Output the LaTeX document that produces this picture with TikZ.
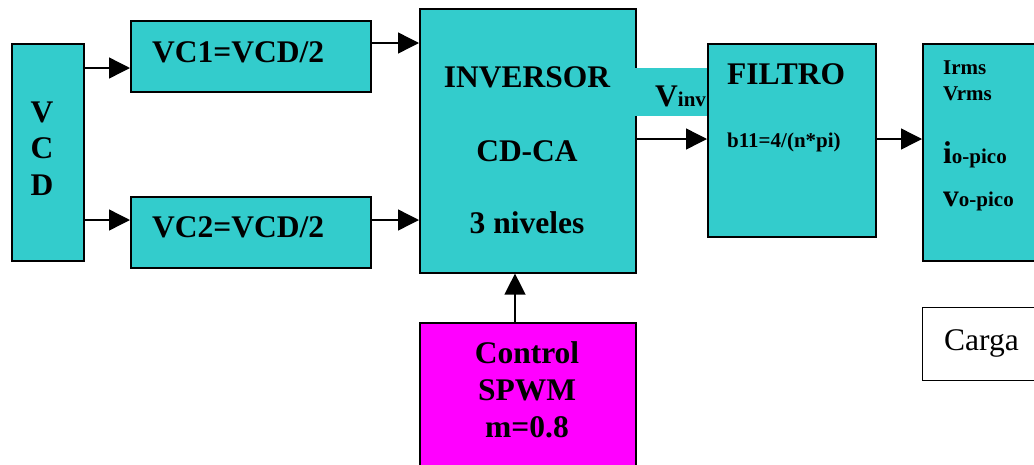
\documentclass[tikz,border=0pt]{standalone}
\usepackage{fontspec}
\setmainfont{Liberation Serif}
\usetikzlibrary{arrows.meta}

\definecolor{cyanbox}{RGB}{51,204,204}
\definecolor{magbox}{RGB}{255,0,255}

\newcommand{\bigtxt}{\fontsize{31.5}{36}\selectfont\bfseries}
\newcommand{\smalltxt}{\fontsize{21}{24}\selectfont\bfseries}

\begin{document}
\begin{tikzpicture}[x=1pt, y=-1pt,
    blk/.style = {draw, line width=1.6pt, fill=cyanbox, anchor=north west, inner sep=0pt},
    arr/.style = {line width=1.4pt, -{Triangle[length=21pt, width=21pt]}},
    txt/.style = {anchor=base, inner sep=0pt}]

    \clip (0,0) rectangle (1034,464);

    % bloques
    \node[blk, minimum width=72pt, minimum height=217pt] (vcd) at (11,43) {};
    \node[blk, minimum width=240pt, minimum height=71pt] (vc1) at (130,20) {};
    \node[blk, minimum width=240pt, minimum height=71pt] (vc2) at (130,196) {};
    \node[blk, minimum width=216pt, minimum height=264pt] (inv) at (419,8) {};
    \node[fill=cyanbox, anchor=north west, inner sep=0pt, minimum width=72pt, minimum height=48pt] (vinvbg) at (635,68) {};
    \node[blk, minimum width=168pt, minimum height=193pt] (fil) at (707,43) {};
    \node[blk, minimum width=140pt, minimum height=217pt] (out) at (922,43) {};
    \node[blk, fill=white, line width=1.2pt, minimum width=130pt, minimum height=73pt] (carga) at (922,307) {};
    \node[blk, fill=magbox, minimum width=216pt, minimum height=160pt] (ctrl) at (419,322) {};

    % textos
    \node[txt] (tv) at (42,122) {\bigtxt V};
    \node[txt] (tc) at (42,158) {\bigtxt C};
    \node[txt] (td) at (42,195) {\bigtxt D};
    \node[txt, anchor=base west] (tvc1) at (152,62) {\bigtxt VC1=VCD/2};
    \node[txt, anchor=base west] (tvc2) at (152,237) {\bigtxt VC2=VCD/2};
    \node[txt] (tinv1) at (527,87) {\bigtxt INVERSOR};
    \node[txt] (tinv2) at (527,161) {\bigtxt CD-CA};
    \node[txt] (tinv3) at (527,233) {\bigtxt 3 niveles};
    \node[txt, anchor=base west] (tvinv) at (655,106) {\bigtxt V\smalltxt inv};
    \node[txt, anchor=base west] (tfil) at (727,84) {\bigtxt FILTRO};
    \node[txt, anchor=base west] (tb11) at (727,147) {\smalltxt b11=4/(n*pi)};
    \node[txt, anchor=base west] (tirms) at (943,74) {\smalltxt Irms};
    \node[txt, anchor=base west] (tvrms) at (943,100) {\smalltxt Vrms};
    \node[txt, anchor=base west] (tio) at (943,163) {\bigtxt i\smalltxt o-pico};
    \node[txt, anchor=base west] (tvo) at (943,206) {\bigtxt v\smalltxt o-pico};
    \node[txt, anchor=base west] (tcarga) at (944,350) {\fontsize{31.5}{36}\selectfont Carga};
    \node[txt] (tctl1) at (527,363) {\bigtxt Control};
    \node[txt] (tctl2) at (527,400) {\bigtxt SPWM};
    \node[txt] (tctl3) at (527,437) {\bigtxt m=0.8};

    % conexiones
    \draw[arr] (vcd.east |- 0,68) -- (vc1.west |- 0,68);
    \draw[arr] (vcd.east |- 0,220) -- (vc2.west |- 0,220);
    \draw[arr] (vc1.east |- 0,43) -- (inv.west |- 0,43);
    \draw[arr] (vc2.east |- 0,220) -- (inv.west |- 0,220);
    \draw[arr] (inv.east |- 0,139) -- (fil.west |- 0,139);
    \draw[arr] (fil.east |- 0,139) -- (out.west |- 0,139);
    \draw[arr] (ctrl.north -| 515,0) -- (inv.south -| 515,0);

\end{tikzpicture}
\end{document}
